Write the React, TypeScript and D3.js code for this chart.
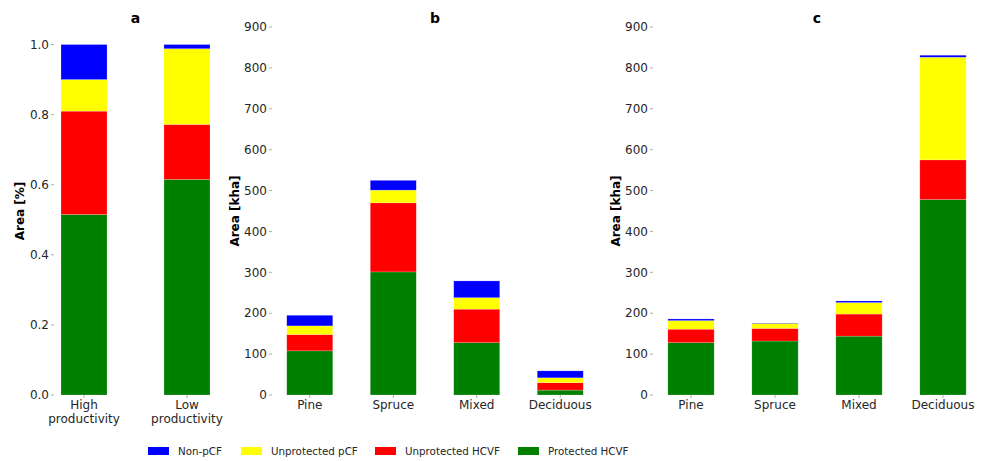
import React from "react";
import * as d3 from "d3";

const seriesKeys = ["protected", "unprotHCVF", "unprotPCF", "nonPCF"];
const seriesLabels = ["Protected HCVF", "Unprotected HCVF", "Unprotected pCF", "Non-pCF"];
const seriesColors = ["#008000", "#ff0000", "#ffff00", "#0000ff"];

// panel a: share of area by productivity
const prodCats = ["High\nproductivity", "Low\nproductivity"];
const prodProtected = [0.515, 0.615];
const prodUnprotHCVF = [0.295, 0.157];
const prodUnprotPCF = [0.09, 0.216];
const prodNonPCF = [0.1, 0.012];
const prodTicks = [0, 0.2, 0.4, 0.6, 0.8, 1.0];

// panels b and c: area by forest type
const forestCats = ["Pine", "Spruce", "Mixed", "Deciduous"];
const bProtected = [108, 301, 128, 12];
const bUnprotHCVF = [40, 169, 82, 18];
const bUnprotPCF = [21, 31, 28, 12];
const bNonPCF = [26, 24, 41, 17];

const cProtected = [128, 132, 144, 478];
const cUnprotHCVF = [33, 31, 54, 97];
const cUnprotPCF = [21, 12, 28, 251];
const cNonPCF = [4, 1, 4, 5];
const areaTicks = [0, 100, 200, 300, 400, 500, 600, 700, 800, 900];

const font = "DejaVu Sans, sans-serif";
const textColor = "#262626";

type PanelProps = {
  title: string;
  ylabel: string;
  cats: string[];
  cols: number[][];
  ticks: number[];
  max: number;
  fmt: (v: number) => string;
  x0: number;
  x1: number;
  padIn: number;
  padOut: number;
  labelOff: number;
};

const top = 27;
const bottom = 395;

const Panel = ({ title, ylabel, cats, cols, ticks, max, fmt, x0, x1, padIn, padOut, labelOff }: PanelProps) => {
  const rows = cats.map((c, i) => {
    const r: any = { cat: c };
    seriesKeys.forEach((k, j) => (r[k] = cols[j][i]));
    return r;
  });
  const stacked = d3.stack().keys(seriesKeys)(rows);
  const x = d3.scaleBand().domain(cats).range([x0, x1]).paddingInner(padIn).paddingOuter(padOut);
  const y = d3.scaleLinear().domain([0, max]).range([bottom, top]);
  const mid = (x0 + x1) / 2;
  return (
    <g>
      <text x={mid} y={23} textAnchor="middle" fontSize={14} fontWeight="bold" fill="#000" fontFamily={font}>
        {title}
      </text>
      <text
        transform={`translate(${x0 - labelOff},${(bottom + top) / 2}) rotate(-90)`}
        textAnchor="middle"
        fontSize={12}
        fontWeight="bold"
        fill="#000"
        fontFamily={font}
      >
        {ylabel}
      </text>
      {ticks.map((t) => (
        <g key={t}>
          <line x1={x0 - 3} x2={x0} y1={y(t)} y2={y(t)} stroke="#999" strokeWidth={0.8} />
          <text x={x0 - 5} y={y(t)} dy="0.35em" textAnchor="end" fontSize={12} fill={textColor} fontFamily={font}>
            {fmt(t)}
          </text>
        </g>
      ))}
      {stacked.map((s, j) => (
        <g key={s.key} fill={seriesColors[j]}>
          {s.map((d: any) => (
            <rect
              key={d.data.cat}
              x={x(d.data.cat)}
              width={x.bandwidth()}
              y={y(d[1])}
              height={Math.max(0, y(d[0]) - y(d[1]))}
              stroke="#ffffff"
              strokeOpacity={0.4}
              strokeWidth={0.5}
            />
          ))}
        </g>
      ))}
      {cats.map((c) => {
        const cx = (x(c) as number) + x.bandwidth() / 2;
        return (
          <g key={c}>
            <line x1={cx} x2={cx} y1={bottom} y2={bottom + 3} stroke="#999" strokeWidth={0.8} />
            <text x={cx} y={bottom + 14} textAnchor="middle" fontSize={12} fill={textColor} fontFamily={font}>
              {c.split("\n").map((line, k) => (
                <tspan key={k} x={cx} dy={k === 0 ? 0 : 14}>
                  {line}
                </tspan>
              ))}
            </text>
          </g>
        );
      })}
    </g>
  );
};

const legendOrder = [3, 2, 1, 0];
const legendX = [148, 241, 375, 518];

const App = () => {
  return (
    <svg width={987} height={461} style={{ position: "absolute", left: 0, top: 0, background: "#fff" }}>
      <Panel
        title="a"
        ylabel="Area [%]"
        cats={prodCats}
        cols={[prodProtected, prodUnprotHCVF, prodUnprotPCF, prodNonPCF]}
        ticks={prodTicks}
        max={1.05}
        fmt={d3.format(".1f")}
        x0={54}
        x1={217}
        padIn={0.553}
        padOut={0.068}
        labelOff={30}
      />
      <Panel
        title="b"
        ylabel="Area [kha]"
        cats={forestCats}
        cols={[bProtected, bUnprotHCVF, bUnprotPCF, bNonPCF]}
        ticks={areaTicks}
        max={900}
        fmt={d3.format("d")}
        x0={272}
        x1={598}
        padIn={0.449}
        padOut={0.177}
        labelOff={33}
      />
      <Panel
        title="c"
        ylabel="Area [kha]"
        cats={forestCats}
        cols={[cProtected, cUnprotHCVF, cUnprotPCF, cNonPCF]}
        ticks={areaTicks}
        max={900}
        fmt={d3.format("d")}
        x0={653}
        x1={981}
        padIn={0.449}
        padOut={0.177}
        labelOff={33}
      />
      {legendOrder.map((j, i) => (
        <g key={j}>
          <rect x={legendX[i]} y={447} width={21} height={8} fill={seriesColors[j]} />
          <text x={legendX[i] + 30} y={451} dy="0.35em" fontSize={10.3} fill={textColor} fontFamily={font}>
            {seriesLabels[j]}
          </text>
        </g>
      ))}
    </svg>
  );
};

export default App;
